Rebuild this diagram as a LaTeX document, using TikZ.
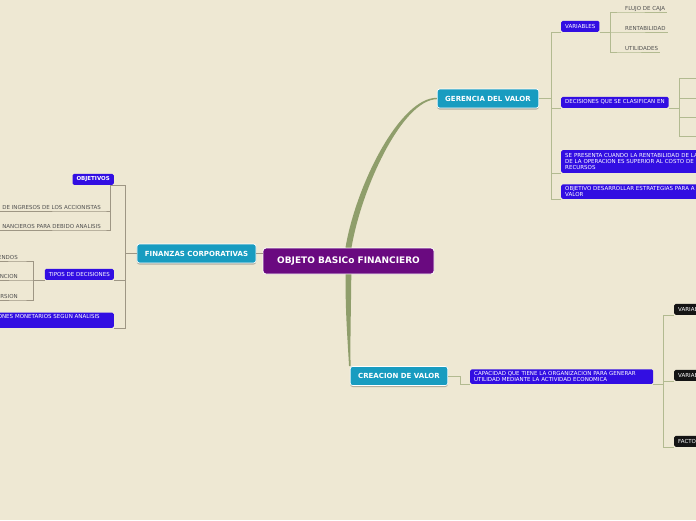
\documentclass[tikz,border=0pt]{standalone}
\usepackage{fontspec}
\setmainfont{DejaVu Sans}
\usepackage{xcolor}
\definecolor{paper}{RGB}{238,232,211}
\definecolor{rootpurple}{RGB}{106,10,128}
\definecolor{mainteal}{RGB}{24,156,192}
\definecolor{topicblue}{RGB}{50,14,226}
\definecolor{stemgreen}{RGB}{143,158,107}
\definecolor{lineolive}{RGB}{178,186,144}
\definecolor{linegray}{RGB}{158,150,132}
\definecolor{leafgray}{RGB}{80,80,80}
\usepackage{tikz}
\usetikzlibrary{calc, shadows}

\begin{document}
\begin{tikzpicture}[
			x=1pt, y=-1pt,
			root/.style={rectangle, rounded corners=3pt, draw=white, line width=0.8pt,
				fill=rootpurple, text=white, font=\bfseries\fontsize{9}{10}\selectfont,
				minimum width=171pt, minimum height=26pt},
			main/.style={rectangle, rounded corners=2.5pt, draw=white, line width=0.7pt,
				fill=mainteal, text=white, font=\bfseries\fontsize{7}{8}\selectfont,
				minimum height=19pt, inner xsep=8pt,
				drop shadow={shadow xshift=0pt, shadow yshift=-1.5pt, fill=black, opacity=0.25}},
			topic/.style={rectangle, rounded corners=1.5pt, fill=topicblue, text=white,
				font=\fontsize{5.5}{6.2}\selectfont, inner xsep=4pt, inner ysep=2pt,
				minimum height=11pt},
			dark/.style={topic, fill=black!92},
			leaf/.style={inner xsep=2pt, inner ysep=1.5pt, text=leafgray, text depth=0pt,
				font=\fontsize{5.5}{6.2}\selectfont},
			tree/.style={draw=lineolive, line width=0.8pt},
			treeleft/.style={draw=linegray, line width=0.8pt},
			stem/.style={fill=stemgreen}
			]
			\fill[paper] (0,0) rectangle (696,520);
			\useasboundingbox (0,0) rectangle (696,520);
			
			% centro y ramas principales
			\node[root] (objeto)   at (348.5,261) {OBJETO BASICo FINANCIERO};
			\node[main] (finanzas) at (196.5,253.5) {FINANZAS CORPORATIVAS};
			\node[main] (gerencia) at (488,98.5) {GERENCIA DEL VALOR};
			\node[main] (creacion) at (399,376) {CREACION DE VALOR};
			
			% gerencia del valor
			\node[topic, anchor=south west] (variables)  at (561,32) {VARIABLES};
			\node[leaf, anchor=south west]  (flujo)      at (623,12) {FLUJO DE CAJA};
			\node[leaf, anchor=south west]  (renta)      at (623,32) {RENTABILIDAD};
			\node[leaf, anchor=south west]  (utilidades) at (623,52) {UTILIDADES};
			\node[topic, anchor=south west] (decisiones) at (561,108) {DECISIONES QUE SE CLASIFICAN EN};
			\node[topic, anchor=south west, inner ysep=3pt, text width=150pt, align=left] (presenta) at (561,173)
				{SE PRESENTA CUANDO LA RENTABILIDAD DE LA\\DE LA OPERACION ES SUPERIOR AL COSTO DE\\RECURSOS};
			\node[topic, anchor=south west, text width=150pt, align=left] (estrategias) at (561,199)
				{OBJETIVO DESARROLLAR ESTRATEGIAS PARA A\\VALOR};
			\coordinate (clase1) at (700,78);
			\coordinate (clase2) at (700,98);
			\coordinate (clase3) at (700,117);
			\coordinate (clase4) at (700,136);
			
			% finanzas corporativas
			\node[topic, anchor=south east, font=\bfseries\fontsize{5.5}{6.2}\selectfont] (objetivos) at (114,185) {OBJETIVOS};
			\node[leaf, anchor=south east] (accionistas) at (103,211) {DE INGRESOS DE LOS ACCIONISTAS};
			\node[leaf, anchor=south east] (analisis)    at (103,230) {NANCIEROS PARA DEBIDO ANALISIS};
			\node[topic, anchor=south east] (tipos) at (114,280) {TIPOS DE DECISIONES};
			\node[leaf, anchor=south east] (dividendos)  at (20,261) {ENDOS};
			\node[leaf, anchor=south east] (financiacion) at (20,280) {NCION};
			\node[leaf, anchor=south east] (inversion)   at (20,300) {RSION};
			\node[topic, anchor=south east, text width=112pt, align=left, text depth=7pt] (monetarios) at (114,328)
				{ONES MONETARIOS SEGUN ANALISIS};
			
			% creacion de valor
			\node[topic, anchor=south west, text width=175pt, align=left] (capacidad) at (470,384)
				{CAPACIDAD QUE TIENE LA ORGANIZACION PARA GENERAR\\UTILIDAD MEDIANTE LA ACTIVIDAD ECONOMICA};
			\node[dark, anchor=south west, text width=32pt, align=left] (varia1) at (674,315) {VARIAB};
			\node[dark, anchor=south west, text width=32pt, align=left] (varia2) at (674,381) {VARIAB};
			\node[dark, anchor=south west, text width=32pt, align=left] (facto)  at (674,447) {FACTO};
			
			% tallos
			\fill[stem] ($(objeto.north)+(-3,0)$) .. controls (356,185) and (400,97.5) .. ($(gerencia.west)+(0,-0.7)$)
				-- ($(gerencia.west)+(0,0.7)$) .. controls (403,99.5) and (362,186) .. ($(objeto.north)+(3,0)$) -- cycle;
			\fill[stem] ($(objeto.south)+(-2.8,0)$) .. controls (345,310) and (348,345) .. ($(creacion.north west)+(-0.8,0)$)
				-- ($(creacion.north west)+(0.8,0)$) .. controls (350,345) and (351,310) .. ($(objeto.south)+(2.8,0)$) -- cycle;
			\draw[treeleft] (finanzas.east) -- (finanzas.east -| objeto.west);
			
			\draw[tree] (gerencia.east) -- ++(12,0) |- (variables.south west);
			\draw[tree] (gerencia.east) -- ++(12,0) |- (decisiones.south west);
			\draw[tree] (gerencia.east) -- ++(12,0) |- (presenta.south west);
			\draw[tree] (gerencia.east) -- ++(12,0) |- (estrategias.south west);
			\draw[tree] (variables.south east) -- ++(11,0) |- (flujo.south west) -- (flujo.south east);
			\draw[tree] (variables.south east) -- ++(11,0) |- (renta.south west) -- (renta.south east);
			\draw[tree] (variables.south east) -- ++(11,0) |- (utilidades.south west) -- (utilidades.south east);
			\draw[tree] (decisiones.south east) -- ++(11,0) |- (clase1);
			\draw[tree] (decisiones.south east) -- ++(11,0) |- (clase2);
			\draw[tree] (decisiones.south east) -- ++(11,0) |- (clase3);
			\draw[tree] (decisiones.south east) -- ++(11,0) |- (clase4);
			
			\draw[treeleft] (finanzas.west) -- ++(-11,0) |- (objetivos.south east);
			\draw[treeleft] (finanzas.west) -- ++(-11,0) |- (tipos.south east);
			\draw[treeleft] (finanzas.west) -- ++(-11,0) |- (monetarios.south east);
			\draw[treeleft] (objetivos.south east) -- ++(-4,0) |- (accionistas.south east) -- (accionistas.south west);
			\draw[treeleft] (objetivos.south east) -- ++(-4,0) |- (analisis.south east) -- (analisis.south west);
			\draw[treeleft] (tipos.south west) -- ++(-11,0) |- (dividendos.south east) -- (dividendos.south west);
			\draw[treeleft] (tipos.south west) -- ++(-11,0) |- (financiacion.south east) -- (financiacion.south west);
			\draw[treeleft] (tipos.south west) -- ++(-11,0) |- (inversion.south east) -- (inversion.south west);
			
			\draw[tree] (creacion.east) -- ++(12,0) |- (capacidad.south west);
			\draw[tree] (capacidad.south east) -- ++(10,0) |- (varia1.south west);
			\draw[tree] (capacidad.south east) -- ++(10,0) |- (varia2.south west);
			\draw[tree] (capacidad.south east) -- ++(10,0) |- (facto.south west);
		\end{tikzpicture}
\end{document}
